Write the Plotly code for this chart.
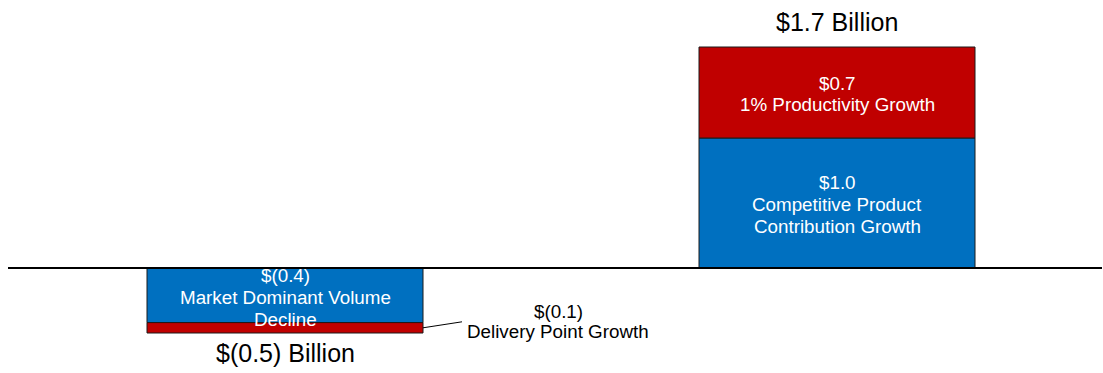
import plotly.graph_objects as go

# ---- data ----
categories = ["Decline", "Growth"]
blue_values = [-0.42, 1.0]
red_values = [-0.08, 0.7]
blue_labels = [["$(0.4)", "Market Dominant Volume", "Decline"],
               ["$1.0", "Competitive Product", "Contribution Growth"]]
red_labels = [["$(0.1)", "Delivery Point Growth"],
              ["$0.7", "1% Productivity Growth"]]
total_labels = ["$(0.5) Billion", "$1.7 Billion"]

BLUE = "#0070C0"
RED = "#C00000"
FONT = "Arial, Liberation Sans, sans-serif"
W, H = 1103, 373
BAR_W = 0.5

fig = go.Figure()
fig.add_trace(go.Bar(x=categories, y=blue_values, width=BAR_W, marker=dict(color=BLUE, line=dict(color="#1a1a1a", width=1)), hoverinfo="skip"))
fig.add_trace(go.Bar(x=categories, y=red_values, width=BAR_W, marker=dict(color=RED, line=dict(color="#1a1a1a", width=1)), hoverinfo="skip"))

ann = []
LS = 21.7

def add_lines(x, y, lines, color, offset=-1.5, spacing=LS, xshift=0):
    n = len(lines)
    for i, t in enumerate(lines):
        ann.append(dict(x=x, y=y, xref="x", yref="y", text=t, showarrow=False,
                        xanchor="center", yanchor="middle", xshift=xshift,
                        yshift=-spacing * (i - (n - 1) / 2) + offset,
                        font=dict(family=FONT, size=18.8, color=color)))

for i, c in enumerate(categories):
    b, r = blue_values[i], red_values[i]
    total = b + r
    if b >= 0:
        add_lines(i, b / 2, blue_labels[i], "white")
        add_lines(i, b + r / 2, red_labels[i], "white")
        ann.append(dict(x=i, y=total, text=total_labels[i], showarrow=False, yanchor="middle", yshift=25,
                        font=dict(family=FONT, size=25, color="black")))
    else:
        add_lines(i, b / 2, blue_labels[i], "white", offset=-2)
        # red segment too thin: label outside with connector
        add_lines(i + BAR_W / 2, b + r / 2, red_labels[i], "black", offset=6, spacing=20, xshift=135)
        ann.append(dict(x=i, y=total, text=total_labels[i], showarrow=False, yanchor="middle", yshift=-20,
                        font=dict(family=FONT, size=25, color="black")))

shapes = [
    dict(type="line", xref="paper", yref="y", x0=8 / W, x1=1102 / W, y0=0, y1=0,
         line=dict(color="black", width=2), layer="above"),
    dict(type="line", xref="x", yref="y", xsizemode="pixel", ysizemode="pixel",
         xanchor=0 + BAR_W / 2, yanchor=blue_values[0] + red_values[0] / 2,
         x0=0, x1=39, y0=0, y1=6, line=dict(color="black", width=1)),
]

# pixel layout: zero line at y=268 px, 130 px per unit; category 0 centre at x=285 px, 552 px per category
px_per_cat = 552
x0px = 285
zero_px = 268
px_per_unit = 130

fig.update_layout(
    width=W, height=H, margin=dict(l=0, r=0, t=0, b=0),
    paper_bgcolor="white", plot_bgcolor="white",
    barmode="relative", showlegend=False,
    xaxis=dict(visible=False, type="category",
               range=[-x0px / px_per_cat, (W - x0px) / px_per_cat]),
    yaxis=dict(visible=False, range=[-(H - zero_px) / px_per_unit, zero_px / px_per_unit]),
    annotations=ann, shapes=shapes,
)
fig.write_html("out.html", config={"displayModeBar": False, "staticPlot": True},
               post_script="document.body.style.margin='0';document.body.style.overflow='hidden';")
